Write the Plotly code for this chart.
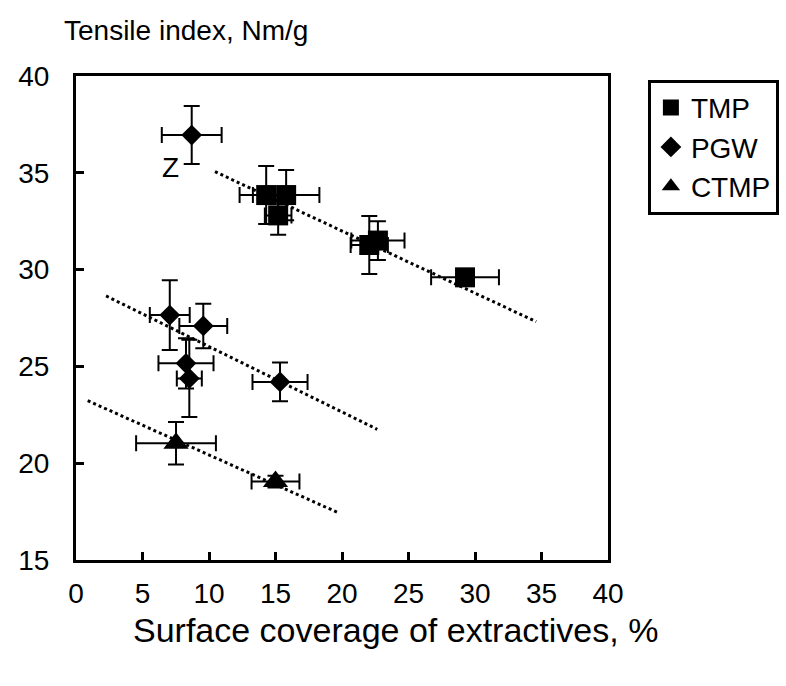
import plotly.graph_objects as go

# --- data ---
tmp_x = [14.3, 15.8, 15.2, 22.05, 22.7, 29.25]
tmp_y = [33.85, 33.85, 32.8, 31.27, 31.5, 29.6]
tmp_xerr = [2.0, 2.5, 1.0, 1.4, 2.0, 2.55]
tmp_yerr = [1.5, 1.3, 1.0, 1.5, 1.0, 0.25]

pgw_x = [8.7, 7.05, 9.57, 8.27, 8.52, 15.34]
pgw_y = [36.95, 27.65, 27.09, 25.16, 24.38, 24.2]
pgw_xerr = [2.25, 1.5, 1.8, 2.07, 0.94, 2.07]
pgw_yerr = [1.5, 1.8, 1.15, 1.3, 2.0, 1.0]

ctmp_x = [7.52, 15.0]
ctmp_y = [21.03, 19.05]
ctmp_xerr = [3.0, 1.8]
ctmp_yerr = [1.1, 0.3]

trend_tmp_x = [10.45, 34.6]
trend_tmp_y = [35.06, 27.31]
trend_pgw_x = [2.26, 22.65]
trend_pgw_y = [28.64, 21.75]
trend_ctmp_x = [0.88, 19.72]
trend_ctmp_y = [23.23, 17.44]

x_ticks = [0, 5, 10, 15, 20, 25, 30, 35, 40]
y_ticks = [15, 20, 25, 30, 35, 40]

FONT = "Liberation Sans, Arial, sans-serif"
FS = 28

fig = go.Figure()

for tx, ty in [(trend_tmp_x, trend_tmp_y), (trend_pgw_x, trend_pgw_y), (trend_ctmp_x, trend_ctmp_y)]:
    fig.add_trace(go.Scatter(x=tx, y=ty, mode="lines", showlegend=False,
                             line=dict(color="black", width=3, dash="dot"), hoverinfo="skip"))

def err(arr):
    return dict(type="data", array=arr, visible=True, color="black", thickness=2, width=8)

fig.add_trace(go.Scatter(x=tmp_x, y=tmp_y, mode="markers", name="TMP",
                         marker=dict(symbol="square", size=20, color="black"),
                         error_x=err(tmp_xerr), error_y=err(tmp_yerr)))
fig.add_trace(go.Scatter(x=pgw_x, y=pgw_y, mode="markers", name="PGW",
                         marker=dict(symbol="diamond", size=16, color="black"),
                         error_x=err(pgw_xerr), error_y=err(pgw_yerr)))
fig.add_trace(go.Scatter(x=ctmp_x, y=ctmp_y, mode="markers", name="CTMP",
                         marker=dict(symbol="triangle-up", size=22, color="black"),
                         error_x=err(ctmp_xerr), error_y=err(ctmp_yerr)))

fig.add_annotation(x=7.07, y=35.25, xref="x", yref="y", text="Z", showarrow=False,
                   font=dict(family=FONT, size=FS, color="black"))
fig.add_annotation(x=-0.026, y=1.095, xref="paper", yref="paper", text="Tensile index, Nm/g",
                   showarrow=False, xanchor="left", yanchor="middle",
                   font=dict(family=FONT, size=FS, color="black"))
fig.add_annotation(x=0.6015, y=-0.145, xref="paper", yref="paper",
                   text="Surface coverage of extractives, %",
                   showarrow=False, xanchor="center", yanchor="middle",
                   font=dict(family=FONT, size=34, color="black"))

axis_common = dict(showline=True, linecolor="black", linewidth=3, mirror=True,
                   ticks="inside", ticklen=8, tickwidth=3, tickcolor="black",
                   showgrid=False, zeroline=False,
                   tickfont=dict(family=FONT, size=FS, color="black"))

fig.update_xaxes(range=[0, 40], tickvals=x_ticks, ticklabelstandoff=6, **axis_common)
fig.update_yaxes(range=[15, 40], tickvals=y_ticks, ticklabelstandoff=18, **axis_common)

fig.update_layout(
    width=786, height=686, autosize=False,
    margin=dict(l=76, r=178, t=76, b=126, autoexpand=False),
    plot_bgcolor="white", paper_bgcolor="white",
    font=dict(family=FONT, size=FS, color="black"),
    legend=dict(x=1.075, y=0.992, xanchor="left", yanchor="top",
                bordercolor="black", borderwidth=3, bgcolor="white",
                font=dict(family=FONT, size=FS, color="black"),
                itemsizing="trace", tracegroupgap=0),
)

fig.write_html("out.html")
